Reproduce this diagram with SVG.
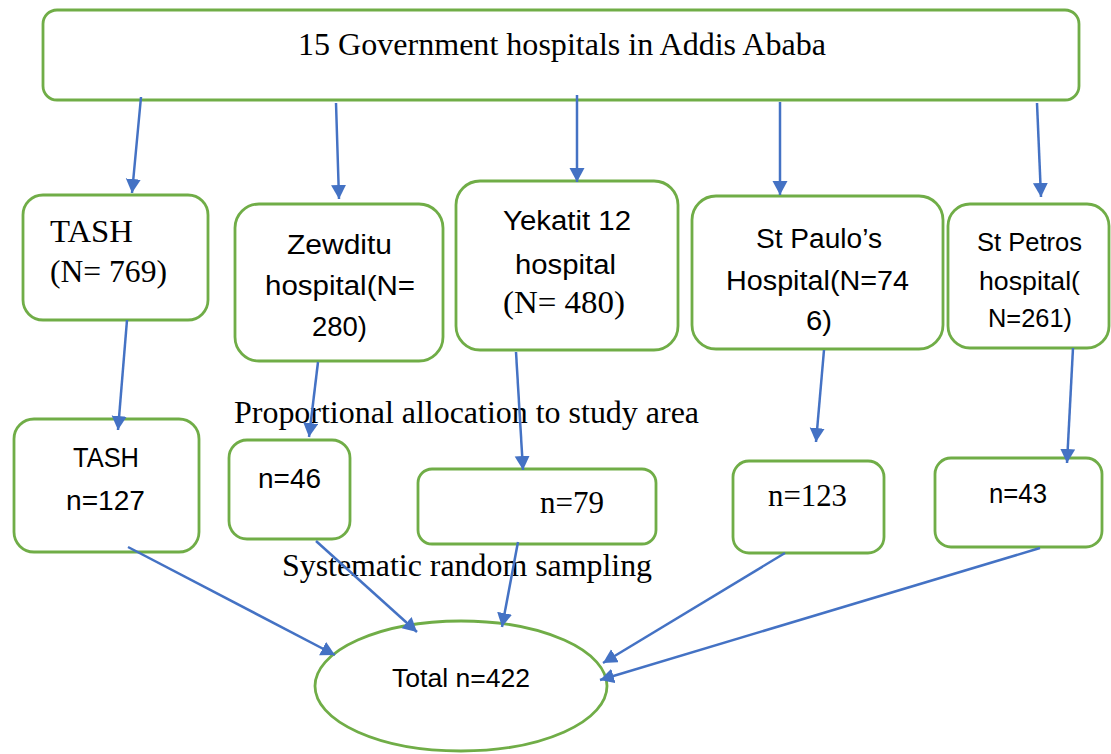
<svg xmlns="http://www.w3.org/2000/svg" width="1111" height="754" viewBox="0 0 1111 754">
<style>
.box{fill:#fff;stroke:#70AD47;stroke-width:2.8}
.ser{font-family:"Liberation Serif","Times New Roman",serif;fill:#000}
.san{font-family:"Liberation Sans",Arial,sans-serif;fill:#000}
.con line{stroke:#4472C4;stroke-width:2.5;marker-end:url(#ah)}
</style>
<defs>
<marker id="ah" markerUnits="userSpaceOnUse" markerWidth="16" markerHeight="16" refX="14" refY="7.5" orient="auto">
<path d="M0,0 L14,7.5 L0,15 z" fill="#4472C4"/>
</marker>
</defs>
<rect width="1111" height="754" fill="#fff"/>
<g id="top">
<rect class="box" x="43" y="10" width="1036" height="90" rx="14"/>
<text class="ser" x="298" y="55" font-size="32" textLength="528" lengthAdjust="spacingAndGlyphs">15 Government hospitals in Addis Ababa</text>
</g>
<g id="tash1">
<rect class="box" x="23" y="195" width="185" height="125" rx="20"/>
<text class="ser" x="50" y="242" font-size="32" textLength="83" lengthAdjust="spacingAndGlyphs">TASH</text>
<text class="ser" x="50" y="282" font-size="32" textLength="117" lengthAdjust="spacingAndGlyphs">(N= 769)</text>
</g>
<g id="zewditu1">
<rect class="box" x="235" y="204" width="208" height="157" rx="24"/>
<text class="san" x="287" y="254" font-size="27" textLength="105" lengthAdjust="spacingAndGlyphs">Zewditu</text>
<text class="san" x="265" y="295" font-size="27" textLength="150" lengthAdjust="spacingAndGlyphs">hospital(N=</text>
<text class="san" x="312" y="336" font-size="27" textLength="55" lengthAdjust="spacingAndGlyphs">280)</text>
</g>
<g id="yekatit1">
<rect class="box" x="456" y="181" width="222" height="169" rx="24"/>
<text class="san" x="503" y="230" font-size="27" textLength="128" lengthAdjust="spacingAndGlyphs">Yekatit 12</text>
<text class="san" x="515" y="274" font-size="27" textLength="101" lengthAdjust="spacingAndGlyphs">hospital</text>
<text class="ser" x="503" y="313" font-size="32" textLength="122" lengthAdjust="spacingAndGlyphs">(N= 480)</text>
</g>
<g id="paulo1">
<rect class="box" x="692" y="196" width="251" height="153" rx="24"/>
<text class="san" x="756" y="248" font-size="27" textLength="126" lengthAdjust="spacingAndGlyphs">St Paulo’s</text>
<text class="san" x="726" y="290" font-size="27" textLength="183" lengthAdjust="spacingAndGlyphs">Hospital(N=74</text>
<text class="san" x="806" y="330" font-size="27" textLength="26" lengthAdjust="spacingAndGlyphs">6)</text>
</g>
<g id="petros1">
<rect class="box" x="948" y="204" width="161" height="144" rx="22"/>
<text class="san" x="977" y="251" font-size="25" textLength="105" lengthAdjust="spacingAndGlyphs">St Petros</text>
<text class="san" x="979" y="290" font-size="25" textLength="101" lengthAdjust="spacingAndGlyphs">hospital(</text>
<text class="san" x="988" y="327" font-size="25" textLength="84" lengthAdjust="spacingAndGlyphs">N=261)</text>
</g>
<g id="label-prop">
<text class="ser" x="234" y="423" font-size="31" textLength="465" lengthAdjust="spacingAndGlyphs">Proportional allocation to study area</text>
</g>
<g id="tash2">
<rect class="box" x="14" y="419" width="185" height="133" rx="20"/>
<text class="san" x="73" y="467" font-size="27" textLength="66" lengthAdjust="spacingAndGlyphs">TASH</text>
<text class="san" x="66" y="510" font-size="27" textLength="79" lengthAdjust="spacingAndGlyphs">n=127</text>
</g>
<g id="zewditu2">
<rect class="box" x="229" y="440" width="121" height="99" rx="18"/>
<text class="san" x="258" y="488" font-size="27" textLength="63" lengthAdjust="spacingAndGlyphs">n=46</text>
</g>
<g id="yekatit2">
<rect class="box" x="418" y="469" width="238" height="75" rx="14"/>
<text class="ser" x="540" y="513" font-size="31" textLength="64" lengthAdjust="spacingAndGlyphs">n=79</text>
</g>
<g id="paulo2">
<rect class="box" x="733" y="461" width="151" height="92" rx="16"/>
<text class="ser" x="768" y="506" font-size="31" textLength="79" lengthAdjust="spacingAndGlyphs">n=123</text>
</g>
<g id="petros2">
<rect class="box" x="935" y="458" width="167" height="89" rx="16"/>
<text class="san" x="989" y="503" font-size="27" textLength="58" lengthAdjust="spacingAndGlyphs">n=43</text>
</g>
<g id="label-sys">
<text class="ser" x="282" y="576" font-size="31" textLength="370" lengthAdjust="spacingAndGlyphs">Systematic random sampling</text>
</g>
<g id="total">
<ellipse class="box" cx="461" cy="686" rx="146" ry="65"/>
<text class="san" x="392" y="687" font-size="25" textLength="138" lengthAdjust="spacingAndGlyphs">Total n=422</text>
</g>
<g id="connectors" class="con">
<line x1="141" y1="97" x2="132" y2="193"/>
<line x1="336" y1="103" x2="339" y2="199"/>
<line x1="577" y1="95" x2="577" y2="182"/>
<line x1="780" y1="102" x2="780" y2="195"/>
<line x1="1037" y1="103" x2="1041" y2="197"/>
<line x1="127" y1="320" x2="118" y2="430"/>
<line x1="318" y1="362" x2="309" y2="437"/>
<line x1="516" y1="352" x2="523" y2="470"/>
<line x1="824" y1="350" x2="816" y2="442"/>
<line x1="1073" y1="348" x2="1067" y2="463"/>
<line x1="128" y1="547" x2="335" y2="655"/>
<line x1="316" y1="541" x2="417" y2="632"/>
<line x1="518" y1="542" x2="502" y2="627"/>
<line x1="785" y1="553" x2="603" y2="663"/>
<line x1="1040" y1="548" x2="600" y2="680"/>
</g>
</svg>
